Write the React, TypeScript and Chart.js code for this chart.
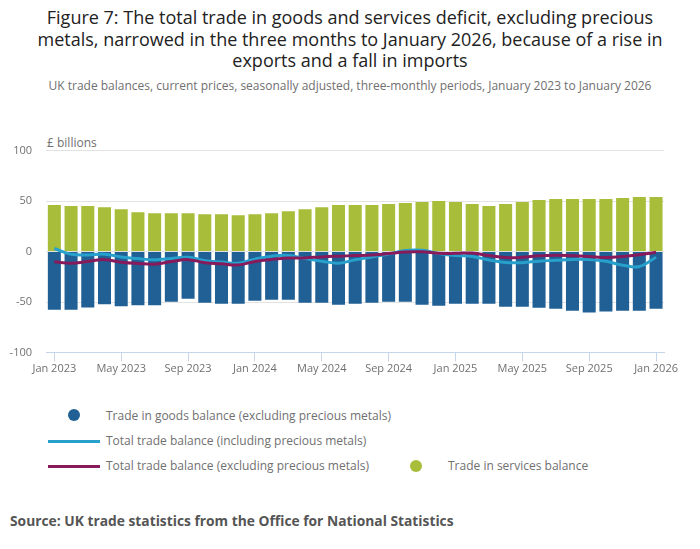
import React, { useEffect, useRef } from "react";
import { Chart, registerables } from "chart.js";

Chart.register(...registerables);

const categories = [
  "Jan 2023", "Feb 2023", "Mar 2023", "Apr 2023", "May 2023", "Jun 2023", "Jul 2023", "Aug 2023", "Sep 2023", "Oct 2023", "Nov 2023", "Dec 2023",
  "Jan 2024", "Feb 2024", "Mar 2024", "Apr 2024", "May 2024", "Jun 2024", "Jul 2024", "Aug 2024", "Sep 2024", "Oct 2024", "Nov 2024", "Dec 2024",
  "Jan 2025", "Feb 2025", "Mar 2025", "Apr 2025", "May 2025", "Jun 2025", "Jul 2025", "Aug 2025", "Sep 2025", "Oct 2025", "Nov 2025", "Dec 2025",
  "Jan 2026",
];

const goodsBalance = [
  -57.6, -57.6, -55.3, -52.3, -54.3, -53.3, -53.3, -49.7, -46.7, -50.7, -51.6, -51.6,
  -48.7, -47.7, -47.7, -50.7, -50.7, -52.6, -51.6, -50.7, -49.7, -49.7, -52.6, -53.6,
  -51.6, -51.6, -51.6, -54.6, -54.6, -55.6, -56.6, -58.6, -60.5, -59.5, -58.6, -58.6,
  -56.6,
];

const servicesBalance = [
  46, 45, 45, 44, 42, 39, 38, 38, 38, 37, 37, 36,
  37, 38, 40, 42, 44, 46, 46, 46, 47, 48, 49, 50,
  49, 47, 45, 47, 49, 51, 52, 52, 52, 52, 53, 54,
  54,
];

const totalInclPreciousMetals = [
  3.0, -2.6, -3.3, -2.6, -5.3, -7.0, -8.2, -6.8, -5.6, -9.0, -10.4, -11.5,
  -7.5, -4.6, -3.9, -7.0, -9.5, -11.5, -8.2, -5.4, -2.5, 1.0, 1.2, -2.0,
  -4.0, -4.8, -8.4, -10.9, -11.0, -9.5, -8.7, -7.8, -8.0, -9.7, -13.5, -14.8,
  -5.6,
];

const totalExclPreciousMetals = [
  -10.2, -11.5, -9.9, -8.0, -10.5, -11.8, -12.5, -9.9, -8.0, -11.0, -12.2, -13.2,
  -9.8, -7.8, -6.5, -6.3, -5.3, -4.6, -4.0, -3.5, -2.0, -0.5, -0.3, -1.8,
  -1.8, -1.5, -4.0, -6.0, -5.6, -4.1, -3.6, -4.1, -4.9, -5.9, -5.0, -3.2,
  -0.8,
];

const yTicks = [-100, -50, 0, 50, 100];

const FONT = "'Open Sans', 'Noto Sans', sans-serif";
const GREY = "#707070";
const C_GOODS = "#206095";
const C_SERVICES = "#a8bd3a";
const C_INCL = "#27a0cc";
const C_EXCL = "#871a5b";

export default function App() {
  const ref = useRef<HTMLCanvasElement | null>(null);

  useEffect(() => {
    document.body.style.margin = "0";
    const canvas = ref.current;
    if (!canvas) return;
    const chart = new Chart(canvas, {
      type: "bar",
      data: {
        labels: categories,
        datasets: [
          {
            type: "line",
            label: "Total trade balance (excluding precious metals)",
            data: totalExclPreciousMetals,
            borderColor: C_EXCL,
            backgroundColor: C_EXCL,
            borderWidth: 3,
            pointRadius: 0,
            tension: 0.4,
            order: 0,
          },
          {
            type: "line",
            label: "Total trade balance (including precious metals)",
            data: totalInclPreciousMetals,
            borderColor: C_INCL,
            backgroundColor: C_INCL,
            borderWidth: 3,
            pointRadius: 0,
            tension: 0.4,
            order: 1,
          },
          {
            type: "bar",
            label: "Trade in goods balance (excluding precious metals)",
            data: goodsBalance,
            backgroundColor: C_GOODS,
            barPercentage: 0.78,
            categoryPercentage: 1,
            order: 2,
          },
          {
            type: "bar",
            label: "Trade in services balance",
            data: servicesBalance,
            backgroundColor: C_SERVICES,
            barPercentage: 0.78,
            categoryPercentage: 1,
            order: 3,
          },
        ],
      },
      options: {
        animation: false,
        responsive: false,
        maintainAspectRatio: false,
        layout: { padding: { top: 20, right: 35.6, bottom: 0, left: 0 } },
        plugins: {
          legend: { display: false },
          tooltip: { enabled: false },
          title: { display: false },
        },
        scales: {
          x: {
            stacked: true,
            offset: true,
            grid: {
              offset: false,
              drawOnChartArea: false,
              drawTicks: true,
              tickLength: 9,
              color: (ctx: any) => (ctx.index % 4 === 0 ? "#c6d5e9" : "rgba(0,0,0,0)"),
            },
            border: { display: true, color: "#c6d5e9", width: 1 },
            ticks: {
              autoSkip: false,
              maxRotation: 0,
              minRotation: 0,
              padding: 1,
              color: GREY,
              font: { family: FONT, size: 11 },
              callback: (_v: any, i: number) => (i % 4 === 0 ? categories[i] : ""),
            },
            afterFit: (scale: any) => {
              scale.height = 27.5;
            },
          },
          y: {
            stacked: false,
            min: -100,
            max: 100,
            afterBuildTicks: (scale: any) => {
              scale.ticks = yTicks.map((v) => ({ value: v }));
            },
            grid: {
              color: "#e2e2e2",
              drawTicks: false,
              lineWidth: 1,
            },
            border: { display: false },
            ticks: {
              padding: 14,
              color: GREY,
              font: { family: FONT, size: 11 },
            },
            afterFit: (scale: any) => {
              scale.width = 46;
            },
          },
        },
      },
    });
    return () => chart.destroy();
  }, []);

  const legendText: React.CSSProperties = {
    position: "absolute",
    left: 106,
    fontFamily: FONT,
    fontSize: 12,
    color: GREY,
    lineHeight: "16px",
    whiteSpace: "nowrap",
  };

  return (
    <div style={{ position: "relative", width: 700, height: 549, background: "#fff", overflow: "hidden", fontFamily: FONT }}>
      <div
        style={{
          position: "absolute",
          top: 7,
          left: 20,
          width: 660,
          textAlign: "center",
          fontSize: 18,
          lineHeight: "21.5px",
          color: "#222222",
        }}
      >
        Figure 7: The total trade in goods and services deficit, excluding precious metals, narrowed in the three months to January 2026, because of a rise in exports and a fall in imports
      </div>
      <div
        style={{
          position: "absolute",
          top: 78,
          left: 0,
          width: 700,
          textAlign: "center",
          fontSize: 12,
          lineHeight: "16px",
          color: GREY,
          whiteSpace: "nowrap",
        }}
      >
        UK trade balances, current prices, seasonally adjusted, three-monthly periods, January 2023 to January 2026
      </div>
      <div style={{ position: "absolute", top: 135, left: 47, fontSize: 12, lineHeight: "16px", color: GREY }}>£ billions</div>
      <canvas ref={ref} width={700} height={250} style={{ position: "absolute", top: 130, left: 0, width: 700, height: 250 }} />

      <div style={{ position: "absolute", left: 68, top: 409, width: 12, height: 12, borderRadius: 6, background: C_GOODS }} />
      <div style={{ ...legendText, top: 408 }}>Trade in goods balance (excluding precious metals)</div>

      <div style={{ position: "absolute", left: 48, top: 439.5, width: 52, height: 3, background: C_INCL }} />
      <div style={{ ...legendText, top: 433 }}>Total trade balance (including precious metals)</div>

      <div style={{ position: "absolute", left: 48, top: 464.5, width: 52, height: 3, background: C_EXCL }} />
      <div style={{ ...legendText, top: 458 }}>Total trade balance (excluding precious metals)</div>

      <div style={{ position: "absolute", left: 410, top: 460, width: 12, height: 12, borderRadius: 6, background: C_SERVICES }} />
      <div style={{ ...legendText, left: 448, top: 458 }}>Trade in services balance</div>

      <div
        style={{
          position: "absolute",
          left: 10,
          top: 512,
          fontSize: 13.8,
          fontWeight: 700,
          lineHeight: "18px",
          color: "#555555",
          whiteSpace: "nowrap",
        }}
      >
        Source: UK trade statistics from the Office for National Statistics
      </div>
    </div>
  );
}
